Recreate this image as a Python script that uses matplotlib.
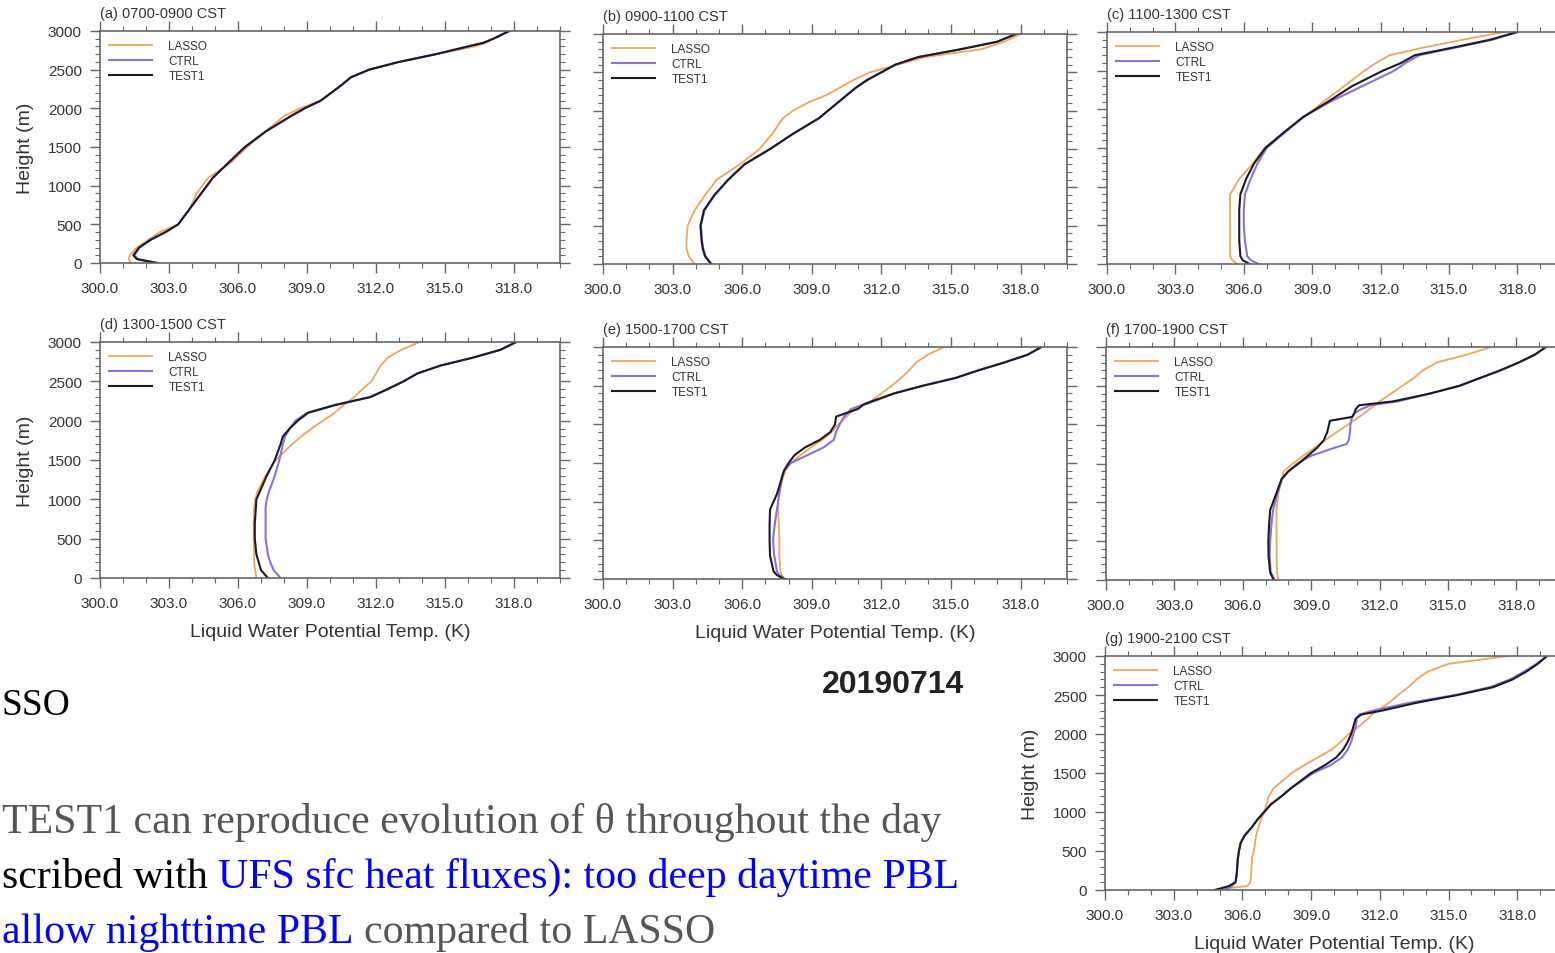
import matplotlib
matplotlib.use("Agg")
import matplotlib.pyplot as plt
from matplotlib.ticker import MultipleLocator, FormatStrFormatter

W, H = 1555, 954
plt.rcParams["font.family"] = ["Liberation Sans", "DejaVu Sans"]

LASSO_C, CTRL_C, TEST1_C = "#f2a55a", "#8a72d6", "#1c1a28"

# ---- profiles (height in m, theta_l in K) ----
Z_A = [0, 50, 100, 200, 300, 400, 500, 700, 900, 1100, 1300, 1500, 1700, 1900,
       2000, 2100, 2300, 2400, 2500, 2600, 2700, 2800, 2850, 2900, 3000]
LASSO_A = [301.35, 301.25, 301.3, 301.6, 302.1, 302.6, 303.4, 303.9, 304.2, 304.7, 305.7, 306.4,
           307.2, 308.0, 308.7, 309.6, 310.5, 310.9, 311.7, 313.0, 314.6, 316.3, 316.8, 317.1, 317.75]
CTRL_A = [302.45, 301.65, 301.5, 301.72, 302.2, 302.85, 303.4, 303.9, 304.4, 304.9, 305.6, 306.3,
          307.2, 308.3, 308.9, 309.6, 310.5, 310.9, 311.7, 313.0, 314.6, 316.0, 316.7, 317.1, 317.8]
TEST1_A = [302.5, 301.6, 301.45, 301.7, 302.2, 302.85, 303.4, 303.9, 304.4, 304.9, 305.6, 306.3,
           307.2, 308.3, 308.9, 309.6, 310.5, 310.9, 311.7, 313.0, 314.6, 316.0, 316.7, 317.1, 317.8]

Z_B = [0, 100, 200, 300, 500, 700, 900, 1100, 1300, 1500, 1700, 1900, 2000, 2100,
       2200, 2300, 2400, 2500, 2600, 2700, 2800, 2900, 3000]
LASSO_B = [303.95, 303.7, 303.6, 303.6, 303.65, 303.95, 304.4, 304.9, 305.9, 306.75, 307.3, 307.75,
           308.2, 308.8, 309.6, 310.2, 310.8, 311.5, 312.7, 313.9, 316.3, 317.3, 318.0]
CTRL_B = [304.7, 304.42, 304.32, 304.27, 304.22, 304.37, 304.82, 305.4, 306.1, 307.2, 308.2, 309.3,
          309.7, 310.1, 310.5, 310.9, 311.35, 312.0, 312.6, 313.6, 315.4, 317.0, 317.8]
TEST1_B = [304.65, 304.4, 304.3, 304.25, 304.2, 304.35, 304.8, 305.4, 306.1, 307.2, 308.2, 309.3,
           309.7, 310.1, 310.5, 310.9, 311.4, 312.0, 312.6, 313.6, 315.4, 317.0, 317.8]

Z_C = [0, 50, 100, 300, 500, 700, 900, 1100, 1300, 1500, 1700, 1900, 2100, 2300,
       2500, 2600, 2700, 2800, 2900, 3000]
LASSO_C_T = [305.7, 305.5, 305.4, 305.4, 305.4, 305.4, 305.4, 305.8, 306.4, 306.9, 307.75, 308.65,
             309.5, 310.4, 311.3, 311.8, 312.4, 313.9, 315.6, 317.4]
CTRL_C_T = [306.65, 306.3, 306.15, 306.05, 306.0, 306.0, 306.05, 306.3, 306.6, 307.0, 307.8, 308.6,
            309.8, 311.2, 312.6, 313.1, 313.7, 315.3, 316.9, 318.0]
TEST1_C_T = [306.25, 305.95, 305.85, 305.8, 305.8, 305.8, 305.85, 306.1, 306.45, 306.95, 307.75, 308.6,
             309.7, 310.75, 312.1, 312.9, 313.5, 315.2, 316.8, 318.0]

Z_D = [0, 100, 200, 300, 500, 700, 900, 1000, 1100, 1300, 1500, 1700, 1800, 1900,
       2000, 2100, 2200, 2300, 2400, 2500, 2600, 2700, 2800, 2900, 3000]
LASSO_D = [306.8, 306.75, 306.7, 306.7, 306.68, 306.68, 306.7, 306.75, 306.85, 307.2, 307.65, 308.35,
           308.75, 309.2, 309.7, 310.2, 310.6, 311.05, 311.4, 311.8, 312.0, 312.2, 312.5, 313.1, 313.9]
CTRL_D = [307.85, 307.55, 307.4, 307.3, 307.2, 307.2, 307.2, 307.25, 307.35, 307.6, 307.8, 307.95,
          308.05, 308.25, 308.5, 309.0, 310.2, 311.75, 312.5, 313.2, 313.8, 314.8, 316.2, 317.4, 318.1]
TEST1_D = [307.3, 307.0, 306.9, 306.8, 306.73, 306.73, 306.78, 306.8, 306.95, 307.25, 307.6, 307.85,
           307.95, 308.25, 308.6, 309.05, 310.25, 311.75, 312.5, 313.2, 313.8, 314.8, 316.2, 317.4, 318.1]

Z_E = [0, 50, 100, 300, 500, 700, 900, 1000, 1100, 1300, 1400, 1500, 1600, 1700,
       1800, 1900, 2000, 2100, 2200, 2250, 2300, 2400, 2500, 2600, 2700, 2800, 2900, 3000]
LASSO_E = [307.8, 307.7, 307.65, 307.6, 307.6, 307.58, 307.55, 307.55, 307.58, 307.75, 307.85, 308.1,
           308.5, 308.95, 309.45, 309.85, 310.15, 310.5, 310.85, 311.1, 311.55, 312.0, 312.45,
           312.85, 313.2, 313.5, 314.0, 314.7]
CTRL_E = [307.85, 307.6, 307.5, 307.38, 307.33, 307.4, 307.5, 307.55, 307.6, 307.7, 307.8, 308.1,
          308.8, 309.5, 309.95, 310.05, 310.2, 310.4, 310.7, 311.2, 311.7, 312.55, 313.8,
          315.2, 316.2, 317.3, 318.3, 318.9]
TEST1_E = [307.8, 307.5, 307.35, 307.2, 307.18, 307.18, 307.2, 307.35, 307.5, 307.7, 307.8, 308.0,
           308.25, 308.7, 309.35, 309.8, 310.0, 310.05, 311.0, 311.2, 311.6, 312.55, 313.8,
           315.2, 316.2, 317.3, 318.3, 318.9]

Z_F = [0, 100, 300, 500, 700, 900, 1100, 1300, 1400, 1500, 1600, 1700, 1750, 1800,
       1900, 2000, 2050, 2100, 2150, 2200, 2250, 2300, 2400, 2500, 2600, 2700, 2800, 2900, 3000]
LASSO_F = [307.55, 307.5, 307.48, 307.48, 307.48, 307.48, 307.55, 307.7, 307.8, 308.2, 308.65, 309.15,
           309.4, 309.6, 310.1, 310.6, 310.85, 311.1, 311.35, 311.55, 311.8, 312.0, 312.5, 313.0,
           313.5, 313.9, 314.5, 315.8, 316.9]
CTRL_F = [307.4, 307.22, 307.18, 307.2, 307.25, 307.33, 307.5, 307.72, 308.0, 308.4, 309.0, 310.0,
          310.55, 310.65, 310.7, 310.72, 310.75, 310.8, 310.9, 311.2, 311.6, 312.8, 314.2, 315.5,
          316.4, 317.3, 318.1, 318.8, 319.3]
TEST1_F = [307.35, 307.2, 307.13, 307.12, 307.15, 307.2, 307.45, 307.7, 308.0, 308.45, 308.85, 309.25,
           309.4, 309.55, 309.7, 309.78, 309.82, 310.8, 310.9, 310.95, 311.1, 312.6, 314.2, 315.5,
           316.4, 317.3, 318.1, 318.8, 319.3]

Z_G = [0, 50, 100, 200, 400, 500, 600, 700, 800, 900, 1000, 1100, 1200, 1300, 1500, 1600,
       1700, 1800, 1900, 2000, 2100, 2200, 2250, 2300, 2400, 2500, 2600, 2700, 2800, 2900, 3000]
LASSO_G = [304.7, 306.2, 306.35, 306.38, 306.42, 306.5, 306.55, 306.6, 306.7, 306.8, 306.95, 307.05,
           307.15, 307.35, 308.15, 308.7, 309.3, 309.9, 310.3, 310.65, 311.1, 311.5, 311.65, 311.9,
           312.4, 312.8, 313.25, 313.6, 314.1, 315.0, 317.6]
CTRL_G = [305.2, 305.55, 305.7, 305.75, 305.8, 305.85, 305.92, 306.1, 306.4, 306.65, 306.95, 307.25,
          307.7, 308.1, 309.1, 309.85, 310.35, 310.6, 310.75, 310.85, 310.95, 311.0, 311.1, 311.7,
          313.3, 315.3, 316.8, 317.7, 318.3, 318.85, 319.3]
TEST1_G = [304.8, 305.4, 305.7, 305.75, 305.8, 305.85, 305.92, 306.1, 306.4, 306.65, 306.95, 307.25,
           307.7, 308.1, 309.0, 309.6, 310.1, 310.4, 310.6, 310.75, 310.85, 310.95, 311.2, 312.1,
           313.6, 315.4, 316.95, 317.8, 318.4, 318.9, 319.3]

TITLES = ["(a) 0700-0900 CST", "(b) 0900-1100 CST", "(c) 1100-1300 CST", "(d) 1300-1500 CST",
          "(e) 1500-1700 CST", "(f) 1700-1900 CST", "(g) 1900-2100 CST"]
XTICKS = [300, 303, 306, 309, 312, 315, 318]

# panel boxes in pixels: left, top, right, bottom (slide screenshot, not a clean grid)
BOXES = [(100, 32, 560, 264), (603, 35, 1067, 265), (1107, 33, 1563, 265),
         (100, 343, 560, 579), (603, 348, 1067, 580), (1106, 348, 1562, 581),
         (1105, 657, 1563, 891)]
DATA = [(Z_A, LASSO_A, CTRL_A, TEST1_A), (Z_B, LASSO_B, CTRL_B, TEST1_B),
        (Z_C, LASSO_C_T, CTRL_C_T, TEST1_C_T), (Z_D, LASSO_D, CTRL_D, TEST1_D),
        (Z_E, LASSO_E, CTRL_E, TEST1_E), (Z_F, LASSO_F, CTRL_F, TEST1_F),
        (Z_G, LASSO_G, CTRL_G, TEST1_G)]
YLABELED = [0, 3, 6]
XLABELED = [3, 4, 6]

fig = plt.figure(figsize=(W / 100, H / 100), dpi=100)

for i, (box, (z, tl, tc, tt)) in enumerate(zip(BOXES, DATA)):
    l, t, r, b = box
    ax = fig.add_axes([l / W, 1 - b / H, (r - l) / W, (b - t) / H])
    ax.plot(tl, z, color=LASSO_C, lw=1.3, label="LASSO")
    ax.plot(tc, z, color=CTRL_C, lw=1.5, label="CTRL")
    ax.plot(tt, z, color=TEST1_C, lw=1.5, label="TEST1")
    ax.set_xlim(300, 320)
    ax.set_ylim(0, 3000)
    ax.set_xticks(XTICKS)
    ax.xaxis.set_major_formatter(FormatStrFormatter("%.1f"))
    ax.xaxis.set_minor_locator(MultipleLocator(1))
    ax.yaxis.set_major_locator(MultipleLocator(500))
    ax.yaxis.set_minor_locator(MultipleLocator(100))
    ax.tick_params(which="both", direction="out", top=True, right=True, color="#666666",
                   labelsize=11, labelcolor="#333333", pad=6)
    ax.tick_params(which="major", length=7, width=1)
    ax.tick_params(which="minor", length=3.5, width=0.8)
    if i not in YLABELED:
        ax.tick_params(labelleft=False)
    else:
        ax.set_ylabel("Height (m)", fontsize=14, color="#333333", labelpad=10)
    if i in XLABELED:
        ax.set_xlabel("Liquid Water Potential Temp. (K)", fontsize=14, color="#333333", labelpad=9)
    for sp in ax.spines.values():
        sp.set_color("#666666")
        sp.set_linewidth(1.2)
    ax.annotate(TITLES[i], xy=(0, 1), xycoords="axes fraction", xytext=(0, 8),
                textcoords="offset points", fontsize=10.5, color="#333333", ha="left", va="bottom")
    ax.legend(loc="upper left", bbox_to_anchor=(0, 1), frameon=False, fontsize=8.5,
              handlelength=3.6, handletextpad=1.4, labelspacing=0.25, borderaxespad=0,
              borderpad=0.8, labelcolor="#333333")

fig.text(893 / W, 1 - 685 / H, "20190714", fontsize=23, fontweight="bold", color="#222222",
         ha="center", va="center")

# ---- slide text at the lower left ----
SERIF = ["Liberation Serif", "DejaVu Serif"]
BODY_FS = 30.2
GRAY, BLUE = "#555555", "#0000ff"
rend = fig.canvas.get_renderer()


def stext(x, y, s, **kw):
    kw.setdefault("fontsize", BODY_FS)
    return fig.text(x / W, 1 - y / H, s, family=SERIF, va="baseline", **kw)


def wid(t):
    return t.get_window_extent(renderer=rend).width


probe1, probe2 = stext(0, 0, "n n"), stext(0, 0, "nn")
gap = wid(probe1) - wid(probe2)
probe1.remove()
probe2.remove()

stext(2, 715, "SSO", fontsize=27, color="black", ha="left")
stext(2, 833, "TEST1 can reproduce evolution of \u03b8 throughout the day", color=GRAY, ha="left")

black2 = stext(2, 888, "scribed with", color="black", ha="left")
x1 = black2.get_window_extent(renderer=rend).x1
stext(x1 + gap, 888, "UFS sfc heat fluxes): too deep daytime PBL", color=BLUE, ha="left")

blue3 = stext(2, 943, "allow nighttime PBL", color=BLUE, ha="left")
x1 = blue3.get_window_extent(renderer=rend).x1
stext(x1 + gap, 943, "compared to LASSO", color=GRAY, ha="left")

fig.savefig("out.png", dpi=100, facecolor="white")
